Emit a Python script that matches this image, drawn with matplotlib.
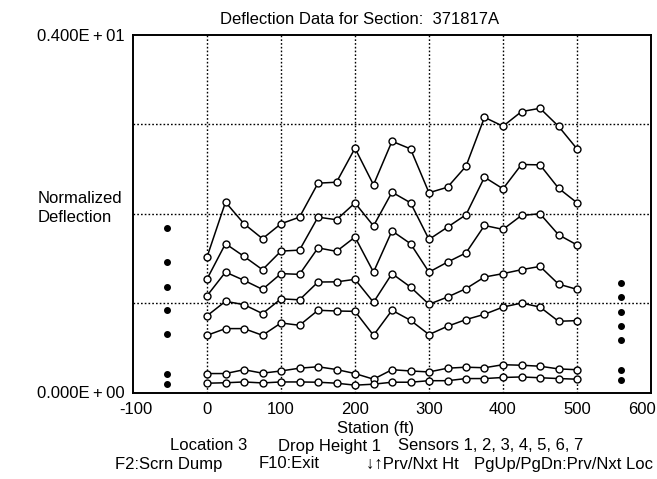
import matplotlib
matplotlib.use("Agg")
import matplotlib.pyplot as plt
from matplotlib.transforms import ScaledTranslation

plt.rcParams['font.family'] = ['Liberation Sans', 'DejaVu Sans']

stations = [0, 25, 50, 75, 100, 125, 150, 175, 200, 225, 250,
            275, 300, 325, 350, 375, 400, 425, 450, 475, 500]

sensor1 = [1.515, 2.130, 1.888, 1.721, 1.888, 1.962, 2.342, 2.353, 2.733, 2.324, 2.811,
           2.726, 2.235, 2.297, 2.532, 3.079, 2.979, 3.143, 3.180, 2.979, 2.726]
sensor2 = [1.269, 1.665, 1.523, 1.374, 1.582, 1.593, 1.962, 1.933, 2.121, 1.864, 2.241,
           2.123, 1.713, 1.850, 1.989, 2.409, 2.279, 2.551, 2.547, 2.286, 2.123]
sensor3 = [1.082, 1.347, 1.255, 1.154, 1.330, 1.322, 1.618, 1.579, 1.739, 1.347, 1.808,
           1.665, 1.347, 1.459, 1.562, 1.869, 1.825, 1.981, 2.000, 1.765, 1.651]
sensor4 = [0.858, 1.020, 0.983, 0.883, 1.048, 1.037, 1.236, 1.238, 1.266, 1.009, 1.330,
           1.180, 0.987, 1.068, 1.162, 1.292, 1.330, 1.374, 1.411, 1.213, 1.154]
sensor5 = [0.640, 0.715, 0.715, 0.640, 0.778, 0.752, 0.920, 0.912, 0.908, 0.640, 0.920,
           0.808, 0.648, 0.741, 0.816, 0.875, 0.956, 1.001, 0.956, 0.797, 0.804]
sensor6 = [0.212, 0.212, 0.255, 0.216, 0.241, 0.272, 0.288, 0.257, 0.212, 0.149, 0.255,
           0.241, 0.230, 0.272, 0.283, 0.277, 0.311, 0.305, 0.294, 0.264, 0.255]
sensor7 = [0.104, 0.109, 0.118, 0.107, 0.118, 0.118, 0.115, 0.104, 0.082, 0.093, 0.115,
           0.115, 0.132, 0.132, 0.156, 0.156, 0.168, 0.174, 0.165, 0.156, 0.149]

left_station = -54
left_dots = [1.835, 1.461, 1.175, 0.922, 0.654, 0.204, 0.094]
right_station = 559
right_dots = [1.220, 1.064, 0.903, 0.746, 0.587, 0.251, 0.145]

x_ticks = [-100, 0, 100, 200, 300, 400, 500, 600]
y_tick_vals = [0.0, 4.0]
y_tick_labels = ["0.000E\u2009+\u200900", "0.400E\u2009+\u200901"]

title = "Deflection Data for Section:  371817A"
xlabel = "Station (ft)"
ylabel = "Normalized\nDeflection"
info_parts = ["Location 3", "Drop Height 1", "Sensors 1, 2, 3, 4, 5, 6, 7"]
keys_parts = ["F2:Scrn Dump", "F10:Exit", "\u2193\u2191Prv/Nxt Ht", "PgUp/PgDn:Prv/Nxt Loc"]

W, H = 657, 479
FS = 12
fig = plt.figure(figsize=(W / 100, H / 100), dpi=100)
ax = fig.add_axes([133 / W, 1 - 392.5 / H, (651 - 133) / W, (392.5 - 35) / H])

for s in [sensor1, sensor2, sensor3, sensor4, sensor5, sensor6, sensor7]:
    ax.plot(stations, s, color='black', lw=1.1, marker='o', ms=5.0,
            mfc='white', mec='black', mew=1.0, zorder=3)

ax.plot([left_station] * len(left_dots), left_dots, 'o', color='black', ms=4, ls='none', zorder=3)
ax.plot([right_station] * len(right_dots), right_dots, 'o', color='black', ms=4, ls='none', zorder=3)

ax.set_xlim(-100, 600)
ax.set_ylim(0, 4)

for xv in [0, 100, 200, 300, 400, 500]:
    ax.axvline(xv, color='black', lw=1.0, ls=(0, (1.2, 1.5)), zorder=1)
for yv in [1, 2, 3]:
    ax.axhline(yv, color='black', lw=1.0, ls=(0, (1.2, 1.5)), zorder=1)

ax.set_xticks(x_ticks)
ax.set_xticklabels([str(v) for v in x_ticks], fontsize=FS)
ax.set_yticks(y_tick_vals)
ax.set_yticklabels(y_tick_labels, fontsize=FS)
ax.tick_params(axis='both', length=0)
ax.tick_params(axis='x', pad=7)
ax.tick_params(axis='y', pad=6)
xl = ax.get_xticklabels()
xl[-1].set_transform(xl[-1].get_transform() + ScaledTranslation(-9 / 100, 0, fig.dpi_scale_trans))
xl[0].set_transform(xl[0].get_transform() + ScaledTranslation(3 / 100, 0, fig.dpi_scale_trans))
for sp in ax.spines.values():
    sp.set_linewidth(1.4)
    sp.set_color('black')

fig.text(360 / W, 1 - 19 / H, title, ha='center', va='center', fontsize=FS)
fig.text(376 / W, 1 - 429 / H, xlabel, ha='center', va='center', fontsize=FS)
fig.text(38 / W, 1 - 208 / H, ylabel, ha='left', va='center', fontsize=FS, linespacing=1.3)

for txt, xl_px in zip(info_parts, [170, 278, 398]):
    fig.text(xl_px / W, 1 - 446 / H, txt, ha='left', va='center', fontsize=FS)
for txt, xl_px in zip(keys_parts, [115, 259, 366, 474]):
    fig.text(xl_px / W, 1 - 464 / H, txt, ha='left', va='center', fontsize=FS)

fig.savefig("out.png", dpi=100)
